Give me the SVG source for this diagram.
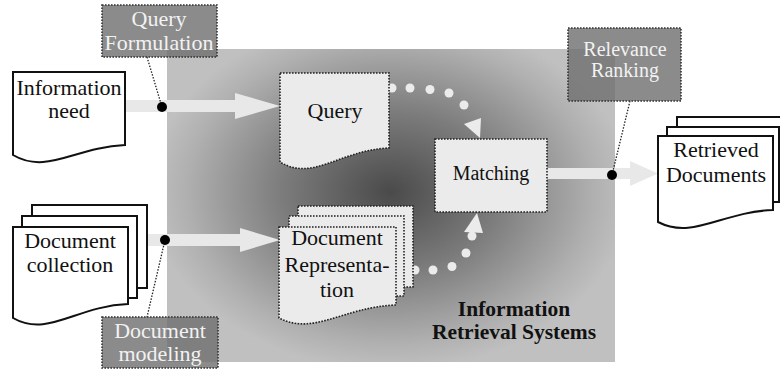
<svg xmlns="http://www.w3.org/2000/svg" width="780" height="377" viewBox="0 0 780 377">
<defs>
<radialGradient id="sysGrad" gradientUnits="userSpaceOnUse" cx="390" cy="192" r="1" gradientTransform="translate(390 192) scale(240 178) translate(-390 -192)">
<stop offset="0" stop-color="#4a4a4a"/>
<stop offset="0.45" stop-color="#7c7c7c"/>
<stop offset="0.85" stop-color="#b0b0b0"/>
<stop offset="1" stop-color="#c0c0c0"/>
</radialGradient>
<style>
text{font-family:'Liberation Serif','DejaVu Serif',serif;text-anchor:middle}
.t{font-size:22px;fill:#111}
.lt{font-size:22px;fill:#f2f2f2}
.bt{font-size:21.5px;font-weight:bold;fill:#111}
.doc{fill:#fff;stroke:#111;stroke-width:2}
.inner{fill:#ebebeb;stroke:#222;stroke-width:1.6;stroke-dasharray:1.6 1.4}
.label{fill:#6e6e6e;fill-opacity:0.8;stroke:#333;stroke-width:1.6;stroke-dasharray:1.6 1.4}
.band{fill:#e8e8e8}
.dots{fill:#ebebeb}
.lead{fill:none;stroke:#222;stroke-width:1.3;stroke-dasharray:1.5 1.5}
</style>
</defs>
<rect width="780" height="377" fill="#fff"/>
<g id="ir-system">
<rect x="167" y="49" width="448" height="313" fill="url(#sysGrad)"/>
<text class="bt" x="514" y="316">Information</text>
<text class="bt" x="514" y="339">Retrieval Systems</text>
</g>
<g id="connectors">
<rect class="band" x="125" y="100" width="112" height="12"/>
<polygon class="band" points="235,93 280,106 235,119"/>
<rect class="band" x="128" y="234" width="114" height="12"/>
<polygon class="band" points="240,228 280,240 240,252"/>
<rect class="band" x="547" y="168" width="85" height="11"/>
<polygon class="band" points="630,161 658,173.5 630,186"/>
<circle class="dots" cx="392" cy="88" r="4.5"/>
<circle class="dots" cx="410" cy="88" r="4.5"/>
<circle class="dots" cx="430" cy="89.5" r="4.5"/>
<circle class="dots" cx="449" cy="93" r="4.5"/>
<circle class="dots" cx="464" cy="105" r="4.5"/>
<polygon class="dots" points="464,124 481,118 480,138"/>
<circle class="dots" cx="415" cy="270" r="4.5"/>
<circle class="dots" cx="433" cy="270" r="4.5"/>
<circle class="dots" cx="452" cy="266.5" r="4.5"/>
<circle class="dots" cx="466" cy="253" r="4.5"/>
<circle class="dots" cx="472" cy="236" r="4.5"/>
<polygon class="dots" points="464,232 477,213 483,233"/>
<path class="lead" d="M147,57 L162,107"/>
<path class="lead" d="M165,240 L147,317"/>
<path class="lead" d="M630,101 L612,175"/>
<circle cx="162" cy="107" r="5" fill="#000"/>
<circle cx="165" cy="240" r="5" fill="#000"/>
<circle cx="612" cy="175" r="5" fill="#000"/>
</g>
<g id="information-need">
<path class="doc" d="M13,72 H125 V145 C75,147 47,175 13,155 Z"/>
<text class="t" x="69" y="95">Information</text>
<text class="t" x="69" y="118">need</text>
</g>
<g id="document-collection">
<rect class="doc" x="32" y="205" width="115" height="83"/>
<rect class="doc" x="22" y="216" width="115" height="82"/>
<path class="doc" d="M13,227 H128 V304 C76,306 48,338 13,318 Z"/>
<text class="t" x="70" y="248">Document</text>
<text class="t" x="70" y="272">collection</text>
</g>
<g id="query-formulation">
<rect class="label" x="102" y="5" width="115" height="52"/>
<text class="lt" x="159" y="26">Query</text>
<text class="lt" x="159" y="50">Formulation</text>
</g>
<g id="document-modeling">
<rect class="label" x="102" y="317" width="116" height="51"/>
<text class="lt" x="160" y="338">Document</text>
<text class="lt" x="160" y="361">modeling</text>
</g>
<g id="query">
<path class="inner" d="M280,73 H389 V148 C340,150 313,182 280,162 Z"/>
<text class="t" x="335" y="118">Query</text>
</g>
<g id="document-representation">
<rect class="inner" x="298" y="206" width="115" height="81"/>
<rect class="inner" x="289" y="216" width="115" height="80"/>
<path class="inner" d="M279,227 H396 V305 C343,307 314,336 279,318 Z"/>
<text class="t" x="337" y="245">Document</text>
<text class="t" x="337" y="272">Representa-</text>
<text class="t" x="337" y="297">tion</text>
</g>
<g id="matching">
<rect class="inner" x="435" y="139" width="112" height="73"/>
<text class="t" x="491" y="180" style="font-size:20px">Matching</text>
</g>
<g id="relevance-ranking">
<rect class="label" x="568" y="28" width="113" height="73"/>
<text class="lt" x="625" y="56" style="font-size:20px">Relevance</text>
<text class="lt" x="625" y="77" style="font-size:20px">Ranking</text>
</g>
<g id="retrieved-documents">
<rect class="doc" x="677" y="117" width="125" height="76"/>
<rect class="doc" x="667" y="127" width="112" height="75"/>
<path class="doc" d="M658,136 H773 V210 C721,212 693,240 658,222 Z"/>
<text class="t" x="716" y="157">Retrieved</text>
<text class="t" x="716" y="182">Documents</text>
</g>
</svg>
